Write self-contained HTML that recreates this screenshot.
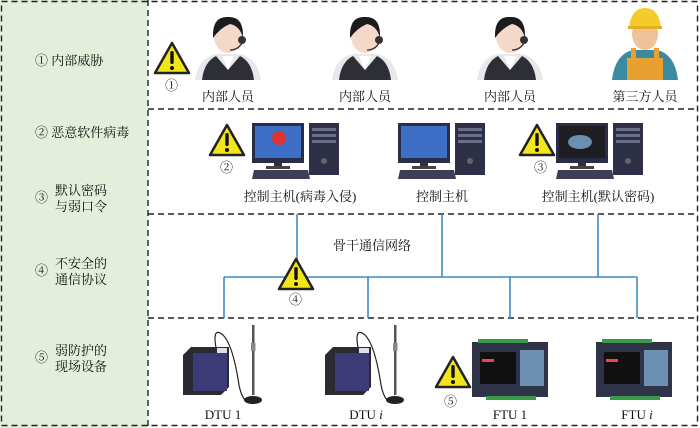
<!DOCTYPE html>
<html><head><meta charset="utf-8"><style>
html,body{margin:0;padding:0;background:#fff}
svg{display:block}
text{font-family:"Liberation Serif","Noto Serif CJK SC","Noto Sans CJK SC",serif;fill:#111}
</style></head><body>
<svg width="700" height="428" viewBox="0 0 700 428" xmlns="http://www.w3.org/2000/svg">
<defs>
<g id="warn">
<polygon points="17,1 34,31 0,31" fill="#f2e51c" stroke="#222" stroke-width="2.5" stroke-linejoin="round"/>
<rect x="15.3" y="9" width="3.4" height="13" rx="1.5" fill="#111"/><circle cx="17" cy="26" r="2" fill="#111"/>
</g>
<g id="person">
<path d="M-33,42 Q-30,20 -12,16 L12,16 Q30,20 33,42 Z" fill="#e8e8ec"/>
<path d="M-26,42 Q-24,24 -12,18 L0,32 L12,18 Q24,24 26,42 Z" fill="#2e2f36"/>
<path d="M-6,18 L0,32 L6,18 Z" fill="#fff"/>
<ellipse cx="0" cy="-2" rx="14" ry="17" fill="#f5d9c8"/>
<path d="M-15,0 Q-16,-22 0,-21 Q16,-22 15,0 Q12,-12 2,-14 Q-8,-10 -15,0 Z" fill="#1c1c1c"/>
<circle cx="14" cy="2" r="4" fill="#333"/>
<path d="M14,5 Q10,12 2,12" stroke="#333" stroke-width="1.3" fill="none"/>
</g>
<g id="pc">
<rect x="0" y="0" width="52" height="40" fill="#2a2d48"/>
<rect x="3" y="3" width="46" height="32" fill="#3d6fc7"/>
<rect x="22" y="40" width="8" height="4" fill="#333"/>
<rect x="14" y="43" width="24" height="3" fill="#444"/>
<polygon points="2,47 56,47 58,56 0,56" fill="#3c3f55"/>
<rect x="57" y="0" width="30" height="52" fill="#2e3047"/>
<rect x="60" y="5" width="24" height="3" fill="#6b6e88"/><rect x="60" y="11" width="24" height="3" fill="#6b6e88"/>
<rect x="60" y="17" width="24" height="3" fill="#6b6e88"/>
<circle cx="72" cy="38" r="3" fill="#666"/>
</g>
<g id="dtu">
<path d="M34,8 Q28,-20 40,-10 Q50,0 56,40 Q60,60 70,58" stroke="#222" stroke-width="1.2" fill="none"/>
<polygon points="0,10 8,2 46,2 46,42 38,50 0,50" fill="#2a2a30"/>
<rect x="10" y="8" width="34" height="38" fill="#3d3a78"/>
<rect x="34" y="3" width="10" height="5" fill="#dde"/>
<rect x="69" y="-20" width="2.5" height="70" fill="#555"/>
<rect x="68" y="-2" width="4.5" height="8" fill="#888"/>
<ellipse cx="70" cy="55" rx="9" ry="4" fill="#222"/>
</g>
<g id="ftu">
<rect x="0" y="0" width="76" height="55" fill="#2f3347"/>
<rect x="6" y="-3" width="50" height="4" fill="#3a9a4a"/>
<rect x="14" y="54" width="50" height="4" fill="#3a9a4a"/>
<rect x="8" y="10" width="36" height="32" fill="#111"/>
<rect x="10" y="17" width="12" height="3" fill="#e44"/>
<rect x="48" y="8" width="24" height="36" fill="#6b8fb0"/>
</g>
</defs>
<rect x="0" y="0" width="148" height="428" fill="#e3efda"/>
<g stroke="#222" stroke-width="1.4" stroke-dasharray="6,4" fill="none">
<rect x="1.5" y="1.5" width="696" height="424"/>
<line x1="148" y1="0" x2="148" y2="428"/>
<line x1="148" y1="109" x2="698" y2="109"/>
<line x1="148" y1="214" x2="698" y2="214"/>
<line x1="148" y1="318" x2="698" y2="318"/>
</g>
<g font-size="13">
<text x="35" y="65">① 内部威胁</text>
<text x="35" y="137">② 恶意软件病毒</text>
<text x="35" y="202">③</text><text x="55" y="195">默认密码</text><text x="55" y="211">与弱口令</text>
<text x="35" y="275">④</text><text x="55" y="268">不安全的</text><text x="55" y="284">通信协议</text>
<text x="35" y="362">⑤</text><text x="55" y="355">弱防护的</text><text x="55" y="371">现场设备</text>
</g>
<use href="#person" x="228" y="38"/>
<use href="#person" x="365" y="38"/>
<use href="#person" x="510" y="38"/>
<g transform="translate(645,38)">
<path d="M-33,42 Q-30,16 -12,12 L12,12 Q30,16 33,42 Z" fill="#3a8aa0"/>
<rect x="-18" y="20" width="36" height="22" fill="#e8a030"/>
<rect x="-14" y="10" width="5" height="14" fill="#e8a030"/><rect x="9" y="10" width="5" height="14" fill="#e8a030"/>
<ellipse cx="0" cy="-4" rx="13" ry="16" fill="#f0c29a"/>
<path d="M-16,-10 Q-14,-30 0,-30 Q14,-30 16,-10 Z" fill="#f4cc2a"/>
<rect x="-17" y="-12" width="34" height="3" fill="#e0b020"/>
</g>
<use href="#warn" x="155" y="42"/>
<g font-size="13">
<text x="165" y="90">①</text>
<text x="228" y="101" text-anchor="middle">内部人员</text>
<text x="365" y="101" text-anchor="middle">内部人员</text>
<text x="510" y="101" text-anchor="middle">内部人员</text>
<text x="645" y="101" text-anchor="middle">第三方人员</text>
</g>
<use href="#pc" x="252" y="123"/>
<circle cx="279" cy="138" r="7" fill="#d33"/>
<use href="#pc" x="398" y="123"/>
<use href="#pc" x="556" y="123"/>
<rect x="559" y="126" width="46" height="32" fill="#1e1e22"/>
<ellipse cx="580" cy="142" rx="12" ry="7" fill="#6a8fb0"/>
<use href="#warn" x="210" y="124"/>
<use href="#warn" x="520" y="124"/>
<g font-size="13">
<text x="220" y="172">②</text>
<text x="534" y="172">③</text>
<text x="300" y="201" text-anchor="middle">控制主机(病毒入侵)</text>
<text x="442" y="201" text-anchor="middle">控制主机</text>
<text x="598" y="201" text-anchor="middle">控制主机(默认密码)</text>
<text x="372" y="250" text-anchor="middle">骨干通信网络</text>
</g>
<g stroke="#3d8cc4" stroke-width="1.6" fill="none">
<line x1="297" y1="214" x2="297" y2="277"/>
<line x1="442" y1="214" x2="442" y2="277"/>
<line x1="598" y1="214" x2="598" y2="277"/>
<line x1="224" y1="277" x2="637" y2="277"/>
<line x1="224" y1="277" x2="224" y2="318"/>
<line x1="368" y1="277" x2="368" y2="318"/>
<line x1="510" y1="277" x2="510" y2="318"/>
<line x1="637" y1="277" x2="637" y2="318"/>
</g>
<use href="#warn" x="279" y="258"/>
<text x="289" y="304" font-size="13">④</text>
<use href="#dtu" x="183" y="345"/>
<use href="#dtu" x="325" y="345"/>
<use href="#ftu" x="472" y="342"/>
<use href="#ftu" x="596" y="342"/>
<use href="#warn" x="436" y="356"/>
<g font-size="13">
<text x="444" y="406">⑤</text>
<text x="223" y="419" text-anchor="middle">DTU 1</text>
<text x="366" y="419" text-anchor="middle">DTU <tspan font-style="italic">i</tspan></text>
<text x="510" y="419" text-anchor="middle">FTU 1</text>
<text x="637" y="419" text-anchor="middle">FTU <tspan font-style="italic">i</tspan></text>
</g>
</svg>
</body></html>
